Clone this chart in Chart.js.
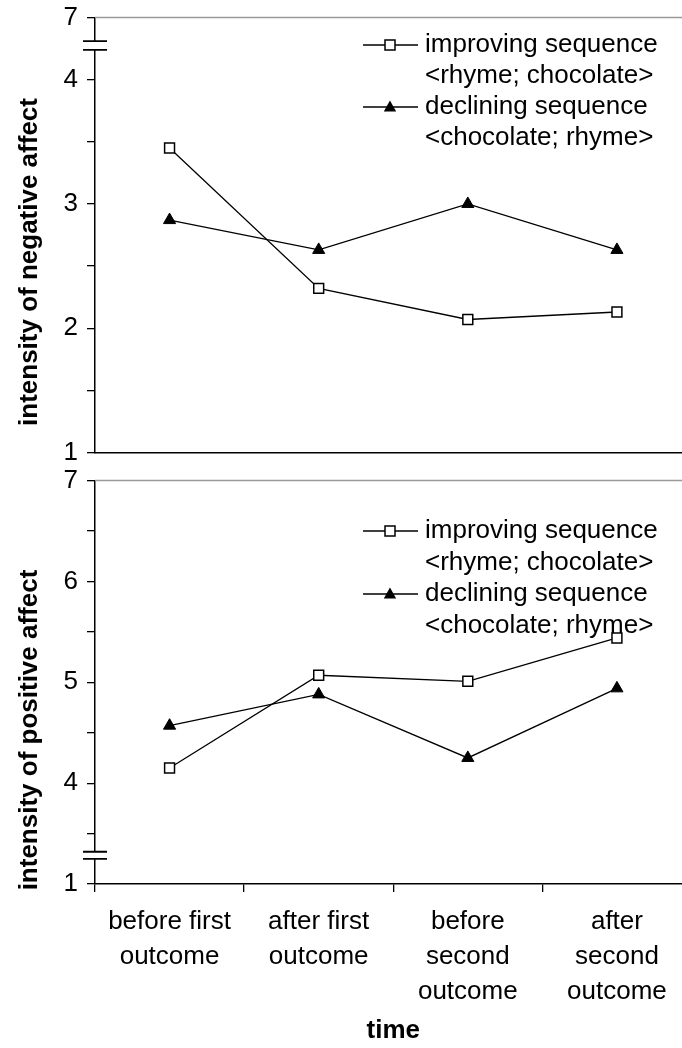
<!DOCTYPE html>
<html>
<head>
<meta charset="utf-8">
<script src="https://cdn.jsdelivr.net/npm/chart.js@4.4.0/dist/chart.umd.min.js"></script>
<style>
html, body { margin: 0; padding: 0; background: #fff; overflow: hidden; }
#wrap { position: relative; width: 682px; height: 1048px; overflow: hidden; }
#negChart { position: absolute; left: 0; top: -7px; }
#posChart { position: absolute; left: 0; top: 456px; }
</style>
</head>
<body>
<div id="wrap">
    <canvas id="negChart" width="700" height="484"></canvas>
    <canvas id="posChart" width="700" height="592"></canvas>
</div>
<script>
var timePoints   = [['before first', 'outcome'], ['after first', 'outcome'], ['before', 'second', 'outcome'], ['after', 'second', 'outcome']];
var seriesNames  = ['improving sequence', 'declining sequence'];
var seriesNotes  = ['<rhyme; chocolate>', '<chocolate; rhyme>'];

var negImproving = [3.45, 2.32, 2.07, 2.13];
var negDeclining = [2.87, 2.63, 3.00, 2.63];
var posImproving = [4.15, 5.07, 5.01, 5.44];
var posDeclining = [4.57, 4.88, 4.25, 4.94];

// broken axes: the top tick of the upper panel stands for 7, the bottom tick of the lower one for 1
var negTicks = {1: '1', 2: '2', 3: '3', 4: '4', 4.5: '7'};
var posTicks = {3: '1', 4: '4', 5: '5', 6: '6', 7: '7'};

var FONT = '"Liberation Sans", Arial, Helvetica, sans-serif';
Chart.defaults.color = '#000';
Chart.defaults.font.family = FONT;
Chart.defaults.font.size = 26;

function drawMarker(ctx, style, x, y) {
    ctx.lineWidth = 1.5;
    ctx.strokeStyle = '#000';
    if (style === 'rect') {
        ctx.fillStyle = '#fff';
        ctx.fillRect(x - 5, y - 5, 10, 10);
        ctx.strokeRect(x - 5, y - 5, 10, 10);
    } else {
        ctx.fillStyle = '#000';
        ctx.beginPath();
        ctx.moveTo(x, y - 6.5);
        ctx.lineTo(x + 6.2, y + 4.5);
        ctx.lineTo(x - 6.2, y + 4.5);
        ctx.closePath();
        ctx.fill();
    }
}

var decor = {
    id: 'decor',
    afterDraw: function(chart) {
        var o = chart.options.plugins.decor;
        var ctx = chart.ctx, a = chart.chartArea, ys = chart.scales.y;
        ctx.save();

        // grey frame line on top of the plot
        ctx.strokeStyle = '#9a9a9a';
        ctx.lineWidth = 1.5;
        ctx.beginPath();
        ctx.moveTo(a.left, a.top);
        ctx.lineTo(a.right, a.top);
        ctx.stroke();

        // axis break
        var y1 = ys.getPixelForValue(o.breakAt[0]), y2 = ys.getPixelForValue(o.breakAt[1]);
        ctx.fillStyle = '#fff';
        ctx.fillRect(a.left - 3, y1, 6, y2 - y1);
        ctx.strokeStyle = '#000';
        ctx.lineWidth = 1.8;
        ctx.beginPath();
        ctx.moveTo(a.left - 12, y1); ctx.lineTo(a.left + 12, y1);
        ctx.moveTo(a.left - 12, y2); ctx.lineTo(a.left + 12, y2);
        ctx.stroke();

        // y title
        ctx.save();
        ctx.translate(30, o.titleY);
        ctx.rotate(-Math.PI / 2);
        ctx.font = 'bold 26px ' + FONT;
        ctx.fillStyle = '#000';
        ctx.textAlign = 'center';
        ctx.textBaseline = 'middle';
        ctx.fillText(o.title, 0, 0);
        ctx.restore();

        // legend
        ctx.font = '26px ' + FONT;
        ctx.textAlign = 'left';
        ctx.textBaseline = 'middle';
        chart.data.datasets.forEach(function(ds, i) {
            var ry = o.legendY[i * 2];
            ctx.strokeStyle = '#000';
            ctx.lineWidth = 1.3;
            ctx.beginPath();
            ctx.moveTo(363, ry); ctx.lineTo(418, ry);
            ctx.stroke();
            drawMarker(ctx, ds.pointStyle, 390, ry);
            ctx.fillStyle = '#000';
            ctx.fillText(seriesNames[i], 425, ry);
            ctx.fillText(seriesNotes[i], 425, o.legendY[i * 2 + 1]);
        });
        ctx.restore();
    }
};

function makeChart(id, improving, declining, p) {
    return new Chart(document.getElementById(id), {
        type: 'line',
        data: {
            labels: timePoints,
            datasets: [
                {
                    label: seriesNames[0], data: improving,
                    borderColor: '#000', borderWidth: 1.3,
                    pointStyle: 'rect', pointRadius: 7,
                    pointBackgroundColor: '#fff', pointBorderColor: '#000', pointBorderWidth: 1.5
                },
                {
                    label: seriesNames[1], data: declining,
                    borderColor: '#000', borderWidth: 1.3,
                    pointStyle: 'triangle', pointRadius: 7,
                    pointBackgroundColor: '#000', pointBorderColor: '#000', pointBorderWidth: 1
                }
            ]
        },
        options: {
            responsive: false,
            animation: false,
            devicePixelRatio: 1,
            layout: { padding: p.padding },
            plugins: {
                legend: { display: false },
                tooltip: { enabled: false },
                decor: p.decor
            },
            scales: {
                x: p.x,
                y: {
                    min: p.min, max: p.max,
                    afterFit: function(s) { s.width = 95; },
                    ticks: {
                        stepSize: 0.5, autoSkip: false, padding: 9,
                        callback: function(v) { return p.tickLabels[v] || ''; }
                    },
                    grid: { drawOnChartArea: false, color: '#000', tickLength: 8, lineWidth: 1.3 },
                    border: { color: '#000', width: 1.5 }
                }
            }
        },
        plugins: [decor]
    });
}

makeChart('negChart', negImproving, negDeclining, {
    min: 1, max: 4.5, tickLabels: negTicks,
    padding: { top: 10, bottom: 11, left: 0, right: 7 },
    x: {
        offset: true,
        ticks: { display: false },
        grid: { display: false },
        border: { color: '#000', width: 1.5 },
        afterFit: function(s) { s.height = 0; }
    },
    decor: { breakAt: [4.31, 4.24], title: 'intensity of negative affect', titleY: 269, legendY: [52, 83, 114, 145] }
});

makeChart('posChart', posImproving, posDeclining, {
    min: 3, max: 7, tickLabels: posTicks,
    padding: { top: 11, bottom: 0, left: 0, right: 7 },
    x: {
        offset: true,
        ticks: { autoSkip: false, maxRotation: 0, padding: 13, font: { size: 26, lineHeight: 1.33 } },
        grid: { offset: true, drawOnChartArea: false, color: '#000', tickLength: 8, lineWidth: 1.3 },
        border: { color: '#000', width: 1.5 },
        title: { display: true, text: 'time', font: { size: 26, weight: 'bold' }, padding: { top: 0, bottom: 2 } },
        afterFit: function(s) { s.height = 164; }
    },
    decor: { breakAt: [3.32, 3.25], title: 'intensity of positive affect', titleY: 274, legendY: [75, 107, 138, 170] }
});
</script>
</body>
</html>
